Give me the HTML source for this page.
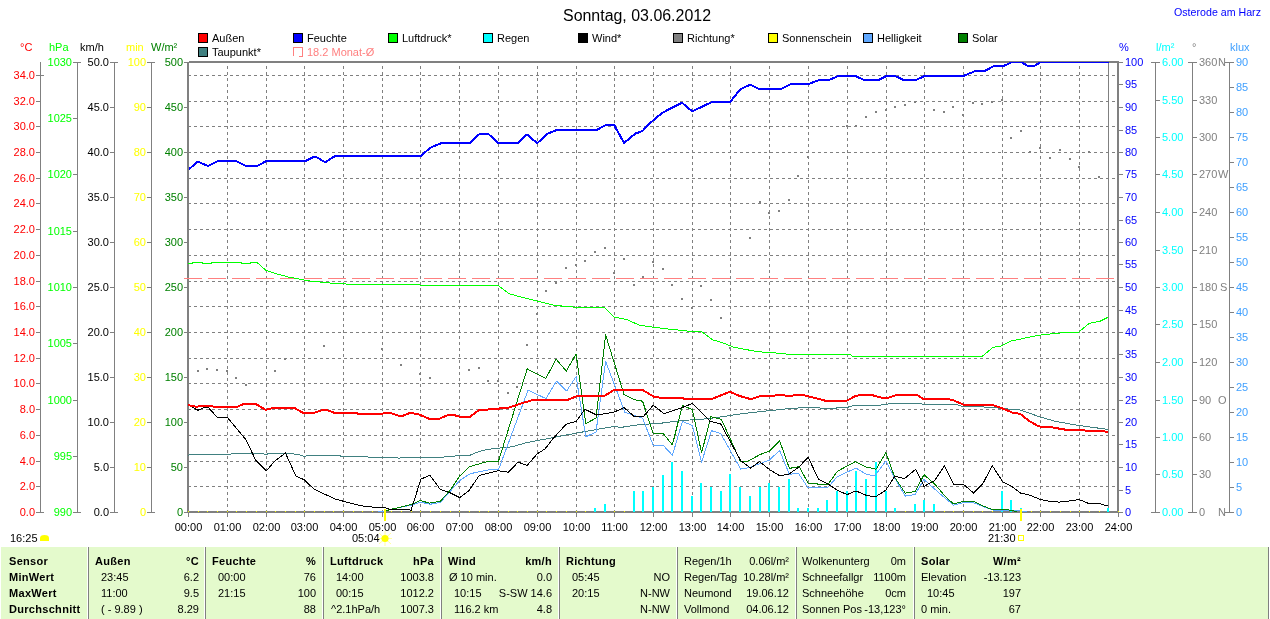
<!DOCTYPE html>
<html><head><meta charset="utf-8"><title>Wetter</title>
<style>html,body{margin:0;padding:0;background:#fff;}svg{display:block;font-family:"Liberation Sans",sans-serif;}</style>
</head><body><div style="will-change:transform;width:1270px;height:619px">
<svg width="1270" height="619" viewBox="0 0 1270 619">
<rect width="1270" height="619" fill="#fff"/>
<rect x="40" y="62" width="1" height="451" fill="#808080"/>
<rect x="36" y="512" width="4" height="1" fill="#808080"/>
<text x="35" y="516.0" fill="#FF0000" text-anchor="end" font-size="11" font-weight="normal" >0.0</text>
<rect x="36" y="486" width="4" height="1" fill="#808080"/>
<text x="35" y="490.0" fill="#FF0000" text-anchor="end" font-size="11" font-weight="normal" >2.0</text>
<rect x="36" y="461" width="4" height="1" fill="#808080"/>
<text x="35" y="465.0" fill="#FF0000" text-anchor="end" font-size="11" font-weight="normal" >4.0</text>
<rect x="36" y="435" width="4" height="1" fill="#808080"/>
<text x="35" y="439.0" fill="#FF0000" text-anchor="end" font-size="11" font-weight="normal" >6.0</text>
<rect x="36" y="409" width="4" height="1" fill="#808080"/>
<text x="35" y="413.0" fill="#FF0000" text-anchor="end" font-size="11" font-weight="normal" >8.0</text>
<rect x="36" y="383" width="4" height="1" fill="#808080"/>
<text x="35" y="387.0" fill="#FF0000" text-anchor="end" font-size="11" font-weight="normal" >10.0</text>
<rect x="36" y="358" width="4" height="1" fill="#808080"/>
<text x="35" y="362.0" fill="#FF0000" text-anchor="end" font-size="11" font-weight="normal" >12.0</text>
<rect x="36" y="332" width="4" height="1" fill="#808080"/>
<text x="35" y="336.0" fill="#FF0000" text-anchor="end" font-size="11" font-weight="normal" >14.0</text>
<rect x="36" y="306" width="4" height="1" fill="#808080"/>
<text x="35" y="310.0" fill="#FF0000" text-anchor="end" font-size="11" font-weight="normal" >16.0</text>
<rect x="36" y="281" width="4" height="1" fill="#808080"/>
<text x="35" y="285.0" fill="#FF0000" text-anchor="end" font-size="11" font-weight="normal" >18.0</text>
<rect x="36" y="255" width="4" height="1" fill="#808080"/>
<text x="35" y="259.0" fill="#FF0000" text-anchor="end" font-size="11" font-weight="normal" >20.0</text>
<rect x="36" y="229" width="4" height="1" fill="#808080"/>
<text x="35" y="233.0" fill="#FF0000" text-anchor="end" font-size="11" font-weight="normal" >22.0</text>
<rect x="36" y="203" width="4" height="1" fill="#808080"/>
<text x="35" y="207.0" fill="#FF0000" text-anchor="end" font-size="11" font-weight="normal" >24.0</text>
<rect x="36" y="178" width="4" height="1" fill="#808080"/>
<text x="35" y="182.0" fill="#FF0000" text-anchor="end" font-size="11" font-weight="normal" >26.0</text>
<rect x="36" y="152" width="4" height="1" fill="#808080"/>
<text x="35" y="156.0" fill="#FF0000" text-anchor="end" font-size="11" font-weight="normal" >28.0</text>
<rect x="36" y="126" width="4" height="1" fill="#808080"/>
<text x="35" y="130.0" fill="#FF0000" text-anchor="end" font-size="11" font-weight="normal" >30.0</text>
<rect x="36" y="101" width="4" height="1" fill="#808080"/>
<text x="35" y="105.0" fill="#FF0000" text-anchor="end" font-size="11" font-weight="normal" >32.0</text>
<rect x="36" y="75" width="4" height="1" fill="#808080"/>
<text x="35" y="79.0" fill="#FF0000" text-anchor="end" font-size="11" font-weight="normal" >34.0</text>
<rect x="41" y="75" width="3" height="1" fill="#808080"/>
<rect x="41" y="512" width="3" height="1" fill="#808080"/>
<text x="20" y="51" fill="#FF0000" text-anchor="start" font-size="11" font-weight="normal" >°C</text>
<rect x="77" y="62" width="1" height="451" fill="#808080"/>
<rect x="73" y="512" width="4" height="1" fill="#808080"/>
<text x="72" y="516.0" fill="#00FF00" text-anchor="end" font-size="11" font-weight="normal" >990</text>
<rect x="73" y="456" width="4" height="1" fill="#808080"/>
<text x="72" y="460.0" fill="#00FF00" text-anchor="end" font-size="11" font-weight="normal" >995</text>
<rect x="73" y="400" width="4" height="1" fill="#808080"/>
<text x="72" y="404.0" fill="#00FF00" text-anchor="end" font-size="11" font-weight="normal" >1000</text>
<rect x="73" y="343" width="4" height="1" fill="#808080"/>
<text x="72" y="347.0" fill="#00FF00" text-anchor="end" font-size="11" font-weight="normal" >1005</text>
<rect x="73" y="287" width="4" height="1" fill="#808080"/>
<text x="72" y="291.0" fill="#00FF00" text-anchor="end" font-size="11" font-weight="normal" >1010</text>
<rect x="73" y="231" width="4" height="1" fill="#808080"/>
<text x="72" y="235.0" fill="#00FF00" text-anchor="end" font-size="11" font-weight="normal" >1015</text>
<rect x="73" y="174" width="4" height="1" fill="#808080"/>
<text x="72" y="178.0" fill="#00FF00" text-anchor="end" font-size="11" font-weight="normal" >1020</text>
<rect x="73" y="118" width="4" height="1" fill="#808080"/>
<text x="72" y="122.0" fill="#00FF00" text-anchor="end" font-size="11" font-weight="normal" >1025</text>
<rect x="73" y="62" width="4" height="1" fill="#808080"/>
<text x="72" y="66.0" fill="#00FF00" text-anchor="end" font-size="11" font-weight="normal" >1030</text>
<rect x="78" y="62" width="3" height="1" fill="#808080"/>
<rect x="78" y="512" width="3" height="1" fill="#808080"/>
<text x="49" y="51" fill="#00FF00" text-anchor="start" font-size="11" font-weight="normal" >hPa</text>
<rect x="114" y="62" width="1" height="451" fill="#808080"/>
<rect x="110" y="512" width="4" height="1" fill="#808080"/>
<text x="109" y="516.0" fill="#000000" text-anchor="end" font-size="11" font-weight="normal" >0.0</text>
<rect x="110" y="467" width="4" height="1" fill="#808080"/>
<text x="109" y="471.0" fill="#000000" text-anchor="end" font-size="11" font-weight="normal" >5.0</text>
<rect x="110" y="422" width="4" height="1" fill="#808080"/>
<text x="109" y="426.0" fill="#000000" text-anchor="end" font-size="11" font-weight="normal" >10.0</text>
<rect x="110" y="377" width="4" height="1" fill="#808080"/>
<text x="109" y="381.0" fill="#000000" text-anchor="end" font-size="11" font-weight="normal" >15.0</text>
<rect x="110" y="332" width="4" height="1" fill="#808080"/>
<text x="109" y="336.0" fill="#000000" text-anchor="end" font-size="11" font-weight="normal" >20.0</text>
<rect x="110" y="287" width="4" height="1" fill="#808080"/>
<text x="109" y="291.0" fill="#000000" text-anchor="end" font-size="11" font-weight="normal" >25.0</text>
<rect x="110" y="242" width="4" height="1" fill="#808080"/>
<text x="109" y="246.0" fill="#000000" text-anchor="end" font-size="11" font-weight="normal" >30.0</text>
<rect x="110" y="197" width="4" height="1" fill="#808080"/>
<text x="109" y="201.0" fill="#000000" text-anchor="end" font-size="11" font-weight="normal" >35.0</text>
<rect x="110" y="152" width="4" height="1" fill="#808080"/>
<text x="109" y="156.0" fill="#000000" text-anchor="end" font-size="11" font-weight="normal" >40.0</text>
<rect x="110" y="107" width="4" height="1" fill="#808080"/>
<text x="109" y="111.0" fill="#000000" text-anchor="end" font-size="11" font-weight="normal" >45.0</text>
<rect x="110" y="62" width="4" height="1" fill="#808080"/>
<text x="109" y="66.0" fill="#000000" text-anchor="end" font-size="11" font-weight="normal" >50.0</text>
<rect x="115" y="62" width="3" height="1" fill="#808080"/>
<rect x="115" y="512" width="3" height="1" fill="#808080"/>
<text x="80" y="51" fill="#000000" text-anchor="start" font-size="11" font-weight="normal" >km/h</text>
<rect x="151" y="62" width="1" height="451" fill="#808080"/>
<rect x="147" y="512" width="4" height="1" fill="#808080"/>
<text x="146" y="516.0" fill="#FFFF00" text-anchor="end" font-size="11" font-weight="normal" >0</text>
<rect x="147" y="467" width="4" height="1" fill="#808080"/>
<text x="146" y="471.0" fill="#FFFF00" text-anchor="end" font-size="11" font-weight="normal" >10</text>
<rect x="147" y="422" width="4" height="1" fill="#808080"/>
<text x="146" y="426.0" fill="#FFFF00" text-anchor="end" font-size="11" font-weight="normal" >20</text>
<rect x="147" y="377" width="4" height="1" fill="#808080"/>
<text x="146" y="381.0" fill="#FFFF00" text-anchor="end" font-size="11" font-weight="normal" >30</text>
<rect x="147" y="332" width="4" height="1" fill="#808080"/>
<text x="146" y="336.0" fill="#FFFF00" text-anchor="end" font-size="11" font-weight="normal" >40</text>
<rect x="147" y="287" width="4" height="1" fill="#808080"/>
<text x="146" y="291.0" fill="#FFFF00" text-anchor="end" font-size="11" font-weight="normal" >50</text>
<rect x="147" y="242" width="4" height="1" fill="#808080"/>
<text x="146" y="246.0" fill="#FFFF00" text-anchor="end" font-size="11" font-weight="normal" >60</text>
<rect x="147" y="197" width="4" height="1" fill="#808080"/>
<text x="146" y="201.0" fill="#FFFF00" text-anchor="end" font-size="11" font-weight="normal" >70</text>
<rect x="147" y="152" width="4" height="1" fill="#808080"/>
<text x="146" y="156.0" fill="#FFFF00" text-anchor="end" font-size="11" font-weight="normal" >80</text>
<rect x="147" y="107" width="4" height="1" fill="#808080"/>
<text x="146" y="111.0" fill="#FFFF00" text-anchor="end" font-size="11" font-weight="normal" >90</text>
<rect x="147" y="62" width="4" height="1" fill="#808080"/>
<text x="146" y="66.0" fill="#FFFF00" text-anchor="end" font-size="11" font-weight="normal" >100</text>
<rect x="152" y="62" width="3" height="1" fill="#808080"/>
<rect x="152" y="512" width="3" height="1" fill="#808080"/>
<text x="126" y="51" fill="#FFFF00" text-anchor="start" font-size="11" font-weight="normal" >min</text>
<rect x="184" y="512" width="3" height="1" fill="#808080"/>
<text x="183" y="516.0" fill="#008000" text-anchor="end" font-size="11" font-weight="normal" >0</text>
<rect x="184" y="467" width="3" height="1" fill="#808080"/>
<text x="183" y="471.0" fill="#008000" text-anchor="end" font-size="11" font-weight="normal" >50</text>
<rect x="184" y="422" width="3" height="1" fill="#808080"/>
<text x="183" y="426.0" fill="#008000" text-anchor="end" font-size="11" font-weight="normal" >100</text>
<rect x="184" y="377" width="3" height="1" fill="#808080"/>
<text x="183" y="381.0" fill="#008000" text-anchor="end" font-size="11" font-weight="normal" >150</text>
<rect x="184" y="332" width="3" height="1" fill="#808080"/>
<text x="183" y="336.0" fill="#008000" text-anchor="end" font-size="11" font-weight="normal" >200</text>
<rect x="184" y="287" width="3" height="1" fill="#808080"/>
<text x="183" y="291.0" fill="#008000" text-anchor="end" font-size="11" font-weight="normal" >250</text>
<rect x="184" y="242" width="3" height="1" fill="#808080"/>
<text x="183" y="246.0" fill="#008000" text-anchor="end" font-size="11" font-weight="normal" >300</text>
<rect x="184" y="197" width="3" height="1" fill="#808080"/>
<text x="183" y="201.0" fill="#008000" text-anchor="end" font-size="11" font-weight="normal" >350</text>
<rect x="184" y="152" width="3" height="1" fill="#808080"/>
<text x="183" y="156.0" fill="#008000" text-anchor="end" font-size="11" font-weight="normal" >400</text>
<rect x="184" y="107" width="3" height="1" fill="#808080"/>
<text x="183" y="111.0" fill="#008000" text-anchor="end" font-size="11" font-weight="normal" >450</text>
<rect x="184" y="62" width="3" height="1" fill="#808080"/>
<text x="183" y="66.0" fill="#008000" text-anchor="end" font-size="11" font-weight="normal" >500</text>
<text x="151" y="51" fill="#008000" text-anchor="start" font-size="11" font-weight="normal" >W/m²</text>
<rect x="1119" y="512" width="4" height="1" fill="#808080"/>
<text x="1125" y="516.0" fill="#0000FF" text-anchor="start" font-size="11" font-weight="normal" >0</text>
<rect x="1119" y="490" width="4" height="1" fill="#808080"/>
<text x="1125" y="494.0" fill="#0000FF" text-anchor="start" font-size="11" font-weight="normal" >5</text>
<rect x="1119" y="467" width="4" height="1" fill="#808080"/>
<text x="1125" y="471.0" fill="#0000FF" text-anchor="start" font-size="11" font-weight="normal" >10</text>
<rect x="1119" y="444" width="4" height="1" fill="#808080"/>
<text x="1125" y="448.0" fill="#0000FF" text-anchor="start" font-size="11" font-weight="normal" >15</text>
<rect x="1119" y="422" width="4" height="1" fill="#808080"/>
<text x="1125" y="426.0" fill="#0000FF" text-anchor="start" font-size="11" font-weight="normal" >20</text>
<rect x="1119" y="400" width="4" height="1" fill="#808080"/>
<text x="1125" y="404.0" fill="#0000FF" text-anchor="start" font-size="11" font-weight="normal" >25</text>
<rect x="1119" y="377" width="4" height="1" fill="#808080"/>
<text x="1125" y="381.0" fill="#0000FF" text-anchor="start" font-size="11" font-weight="normal" >30</text>
<rect x="1119" y="354" width="4" height="1" fill="#808080"/>
<text x="1125" y="358.0" fill="#0000FF" text-anchor="start" font-size="11" font-weight="normal" >35</text>
<rect x="1119" y="332" width="4" height="1" fill="#808080"/>
<text x="1125" y="336.0" fill="#0000FF" text-anchor="start" font-size="11" font-weight="normal" >40</text>
<rect x="1119" y="310" width="4" height="1" fill="#808080"/>
<text x="1125" y="314.0" fill="#0000FF" text-anchor="start" font-size="11" font-weight="normal" >45</text>
<rect x="1119" y="287" width="4" height="1" fill="#808080"/>
<text x="1125" y="291.0" fill="#0000FF" text-anchor="start" font-size="11" font-weight="normal" >50</text>
<rect x="1119" y="264" width="4" height="1" fill="#808080"/>
<text x="1125" y="268.0" fill="#0000FF" text-anchor="start" font-size="11" font-weight="normal" >55</text>
<rect x="1119" y="242" width="4" height="1" fill="#808080"/>
<text x="1125" y="246.0" fill="#0000FF" text-anchor="start" font-size="11" font-weight="normal" >60</text>
<rect x="1119" y="220" width="4" height="1" fill="#808080"/>
<text x="1125" y="224.0" fill="#0000FF" text-anchor="start" font-size="11" font-weight="normal" >65</text>
<rect x="1119" y="197" width="4" height="1" fill="#808080"/>
<text x="1125" y="201.0" fill="#0000FF" text-anchor="start" font-size="11" font-weight="normal" >70</text>
<rect x="1119" y="174" width="4" height="1" fill="#808080"/>
<text x="1125" y="178.0" fill="#0000FF" text-anchor="start" font-size="11" font-weight="normal" >75</text>
<rect x="1119" y="152" width="4" height="1" fill="#808080"/>
<text x="1125" y="156.0" fill="#0000FF" text-anchor="start" font-size="11" font-weight="normal" >80</text>
<rect x="1119" y="130" width="4" height="1" fill="#808080"/>
<text x="1125" y="134.0" fill="#0000FF" text-anchor="start" font-size="11" font-weight="normal" >85</text>
<rect x="1119" y="107" width="4" height="1" fill="#808080"/>
<text x="1125" y="111.0" fill="#0000FF" text-anchor="start" font-size="11" font-weight="normal" >90</text>
<rect x="1119" y="84" width="4" height="1" fill="#808080"/>
<text x="1125" y="88.0" fill="#0000FF" text-anchor="start" font-size="11" font-weight="normal" >95</text>
<rect x="1119" y="62" width="4" height="1" fill="#808080"/>
<text x="1125" y="66.0" fill="#0000FF" text-anchor="start" font-size="11" font-weight="normal" >100</text>
<text x="1119" y="51" fill="#0000FF" text-anchor="start" font-size="11" font-weight="normal" >%</text>
<rect x="1155" y="62" width="1" height="451" fill="#808080"/>
<rect x="1156" y="512" width="4" height="1" fill="#808080"/>
<text x="1162" y="516.0" fill="#00FFFF" text-anchor="start" font-size="11" font-weight="normal" >0.00</text>
<rect x="1156" y="474" width="4" height="1" fill="#808080"/>
<text x="1162" y="478.0" fill="#00FFFF" text-anchor="start" font-size="11" font-weight="normal" >0.50</text>
<rect x="1156" y="437" width="4" height="1" fill="#808080"/>
<text x="1162" y="441.0" fill="#00FFFF" text-anchor="start" font-size="11" font-weight="normal" >1.00</text>
<rect x="1156" y="400" width="4" height="1" fill="#808080"/>
<text x="1162" y="404.0" fill="#00FFFF" text-anchor="start" font-size="11" font-weight="normal" >1.50</text>
<rect x="1156" y="362" width="4" height="1" fill="#808080"/>
<text x="1162" y="366.0" fill="#00FFFF" text-anchor="start" font-size="11" font-weight="normal" >2.00</text>
<rect x="1156" y="324" width="4" height="1" fill="#808080"/>
<text x="1162" y="328.0" fill="#00FFFF" text-anchor="start" font-size="11" font-weight="normal" >2.50</text>
<rect x="1156" y="287" width="4" height="1" fill="#808080"/>
<text x="1162" y="291.0" fill="#00FFFF" text-anchor="start" font-size="11" font-weight="normal" >3.00</text>
<rect x="1156" y="250" width="4" height="1" fill="#808080"/>
<text x="1162" y="254.0" fill="#00FFFF" text-anchor="start" font-size="11" font-weight="normal" >3.50</text>
<rect x="1156" y="212" width="4" height="1" fill="#808080"/>
<text x="1162" y="216.0" fill="#00FFFF" text-anchor="start" font-size="11" font-weight="normal" >4.00</text>
<rect x="1156" y="174" width="4" height="1" fill="#808080"/>
<text x="1162" y="178.0" fill="#00FFFF" text-anchor="start" font-size="11" font-weight="normal" >4.50</text>
<rect x="1156" y="137" width="4" height="1" fill="#808080"/>
<text x="1162" y="141.0" fill="#00FFFF" text-anchor="start" font-size="11" font-weight="normal" >5.00</text>
<rect x="1156" y="100" width="4" height="1" fill="#808080"/>
<text x="1162" y="104.0" fill="#00FFFF" text-anchor="start" font-size="11" font-weight="normal" >5.50</text>
<rect x="1156" y="62" width="4" height="1" fill="#808080"/>
<text x="1162" y="66.0" fill="#00FFFF" text-anchor="start" font-size="11" font-weight="normal" >6.00</text>
<rect x="1151" y="62" width="4" height="1" fill="#808080"/>
<rect x="1151" y="512" width="4" height="1" fill="#808080"/>
<text x="1156" y="51" fill="#00FFFF" text-anchor="start" font-size="11" font-weight="normal" >l/m²</text>
<rect x="1192" y="62" width="1" height="451" fill="#808080"/>
<rect x="1193" y="512" width="4" height="1" fill="#808080"/>
<text x="1199" y="516.0" fill="#808080" text-anchor="start" font-size="11" font-weight="normal" >0</text>
<text x="1218" y="516.0" fill="#808080" text-anchor="start" font-size="11" font-weight="normal" >N</text>
<rect x="1193" y="474" width="4" height="1" fill="#808080"/>
<text x="1199" y="478.0" fill="#808080" text-anchor="start" font-size="11" font-weight="normal" >30</text>
<rect x="1193" y="437" width="4" height="1" fill="#808080"/>
<text x="1199" y="441.0" fill="#808080" text-anchor="start" font-size="11" font-weight="normal" >60</text>
<rect x="1193" y="400" width="4" height="1" fill="#808080"/>
<text x="1199" y="404.0" fill="#808080" text-anchor="start" font-size="11" font-weight="normal" >90</text>
<text x="1218" y="404.0" fill="#808080" text-anchor="start" font-size="11" font-weight="normal" >O</text>
<rect x="1193" y="362" width="4" height="1" fill="#808080"/>
<text x="1199" y="366.0" fill="#808080" text-anchor="start" font-size="11" font-weight="normal" >120</text>
<rect x="1193" y="324" width="4" height="1" fill="#808080"/>
<text x="1199" y="328.0" fill="#808080" text-anchor="start" font-size="11" font-weight="normal" >150</text>
<rect x="1193" y="287" width="4" height="1" fill="#808080"/>
<text x="1199" y="291.0" fill="#808080" text-anchor="start" font-size="11" font-weight="normal" >180</text>
<text x="1220" y="291.0" fill="#808080" text-anchor="start" font-size="11" font-weight="normal" >S</text>
<rect x="1193" y="250" width="4" height="1" fill="#808080"/>
<text x="1199" y="254.0" fill="#808080" text-anchor="start" font-size="11" font-weight="normal" >210</text>
<rect x="1193" y="212" width="4" height="1" fill="#808080"/>
<text x="1199" y="216.0" fill="#808080" text-anchor="start" font-size="11" font-weight="normal" >240</text>
<rect x="1193" y="174" width="4" height="1" fill="#808080"/>
<text x="1199" y="178.0" fill="#808080" text-anchor="start" font-size="11" font-weight="normal" >270</text>
<text x="1218" y="178.0" fill="#808080" text-anchor="start" font-size="11" font-weight="normal" >W</text>
<rect x="1193" y="137" width="4" height="1" fill="#808080"/>
<text x="1199" y="141.0" fill="#808080" text-anchor="start" font-size="11" font-weight="normal" >300</text>
<rect x="1193" y="100" width="4" height="1" fill="#808080"/>
<text x="1199" y="104.0" fill="#808080" text-anchor="start" font-size="11" font-weight="normal" >330</text>
<rect x="1193" y="62" width="4" height="1" fill="#808080"/>
<text x="1199" y="66.0" fill="#808080" text-anchor="start" font-size="11" font-weight="normal" >360</text>
<text x="1218" y="66.0" fill="#808080" text-anchor="start" font-size="11" font-weight="normal" >N</text>
<rect x="1188" y="62" width="4" height="1" fill="#808080"/>
<rect x="1188" y="512" width="4" height="1" fill="#808080"/>
<text x="1192" y="51" fill="#808080" text-anchor="start" font-size="11" font-weight="normal" >°</text>
<rect x="1229" y="62" width="1" height="451" fill="#808080"/>
<rect x="1230" y="512" width="4" height="1" fill="#808080"/>
<text x="1236" y="516.0" fill="#40A0FF" text-anchor="start" font-size="11" font-weight="normal" >0</text>
<rect x="1230" y="487" width="4" height="1" fill="#808080"/>
<text x="1236" y="491.0" fill="#40A0FF" text-anchor="start" font-size="11" font-weight="normal" >5</text>
<rect x="1230" y="462" width="4" height="1" fill="#808080"/>
<text x="1236" y="466.0" fill="#40A0FF" text-anchor="start" font-size="11" font-weight="normal" >10</text>
<rect x="1230" y="437" width="4" height="1" fill="#808080"/>
<text x="1236" y="441.0" fill="#40A0FF" text-anchor="start" font-size="11" font-weight="normal" >15</text>
<rect x="1230" y="412" width="4" height="1" fill="#808080"/>
<text x="1236" y="416.0" fill="#40A0FF" text-anchor="start" font-size="11" font-weight="normal" >20</text>
<rect x="1230" y="387" width="4" height="1" fill="#808080"/>
<text x="1236" y="391.0" fill="#40A0FF" text-anchor="start" font-size="11" font-weight="normal" >25</text>
<rect x="1230" y="362" width="4" height="1" fill="#808080"/>
<text x="1236" y="366.0" fill="#40A0FF" text-anchor="start" font-size="11" font-weight="normal" >30</text>
<rect x="1230" y="337" width="4" height="1" fill="#808080"/>
<text x="1236" y="341.0" fill="#40A0FF" text-anchor="start" font-size="11" font-weight="normal" >35</text>
<rect x="1230" y="312" width="4" height="1" fill="#808080"/>
<text x="1236" y="316.0" fill="#40A0FF" text-anchor="start" font-size="11" font-weight="normal" >40</text>
<rect x="1230" y="287" width="4" height="1" fill="#808080"/>
<text x="1236" y="291.0" fill="#40A0FF" text-anchor="start" font-size="11" font-weight="normal" >45</text>
<rect x="1230" y="262" width="4" height="1" fill="#808080"/>
<text x="1236" y="266.0" fill="#40A0FF" text-anchor="start" font-size="11" font-weight="normal" >50</text>
<rect x="1230" y="237" width="4" height="1" fill="#808080"/>
<text x="1236" y="241.0" fill="#40A0FF" text-anchor="start" font-size="11" font-weight="normal" >55</text>
<rect x="1230" y="212" width="4" height="1" fill="#808080"/>
<text x="1236" y="216.0" fill="#40A0FF" text-anchor="start" font-size="11" font-weight="normal" >60</text>
<rect x="1230" y="187" width="4" height="1" fill="#808080"/>
<text x="1236" y="191.0" fill="#40A0FF" text-anchor="start" font-size="11" font-weight="normal" >65</text>
<rect x="1230" y="162" width="4" height="1" fill="#808080"/>
<text x="1236" y="166.0" fill="#40A0FF" text-anchor="start" font-size="11" font-weight="normal" >70</text>
<rect x="1230" y="137" width="4" height="1" fill="#808080"/>
<text x="1236" y="141.0" fill="#40A0FF" text-anchor="start" font-size="11" font-weight="normal" >75</text>
<rect x="1230" y="112" width="4" height="1" fill="#808080"/>
<text x="1236" y="116.0" fill="#40A0FF" text-anchor="start" font-size="11" font-weight="normal" >80</text>
<rect x="1230" y="87" width="4" height="1" fill="#808080"/>
<text x="1236" y="91.0" fill="#40A0FF" text-anchor="start" font-size="11" font-weight="normal" >85</text>
<rect x="1230" y="62" width="4" height="1" fill="#808080"/>
<text x="1236" y="66.0" fill="#40A0FF" text-anchor="start" font-size="11" font-weight="normal" >90</text>
<rect x="1225" y="62" width="4" height="1" fill="#808080"/>
<rect x="1225" y="512" width="4" height="1" fill="#808080"/>
<text x="1230" y="51" fill="#40A0FF" text-anchor="start" font-size="11" font-weight="normal" >klux</text>
<path d="M188 486.5H1117 M188 461.5H1117 M188 435.5H1117 M188 409.5H1117 M188 383.5H1117 M188 358.5H1117 M188 332.5H1117 M188 306.5H1117 M188 281.5H1117 M188 255.5H1117 M188 229.5H1117 M188 203.5H1117 M188 178.5H1117 M188 152.5H1117 M188 126.5H1117 M188 101.5H1117 M188 75.5H1117" stroke="#808080" stroke-width="1" stroke-dasharray="3 3" fill="none" shape-rendering="crispEdges"/>
<path d="M227.5 61V511 M266.5 61V511 M304.5 61V511 M343.5 61V511 M382.5 61V511 M420.5 61V511 M459.5 61V511 M498.5 61V511 M537.5 61V511 M576.5 61V511 M614.5 61V511 M653.5 61V511 M692.5 61V511 M730.5 61V511 M769.5 61V511 M808.5 61V511 M847.5 61V511 M886.5 61V511 M924.5 61V511 M963.5 61V511 M1002.5 61V511 M1040.5 61V511 M1079.5 61V511" stroke="#808080" stroke-width="1" stroke-dasharray="3 3" stroke-dashoffset="1" fill="none" shape-rendering="crispEdges"/>
<rect x="187" y="62" width="2" height="451" fill="#808080"/>
<rect x="189" y="61" width="930" height="2" fill="#808080"/>
<rect x="1117" y="61" width="2" height="452" fill="#808080"/>
<rect x="187" y="511" width="932" height="2" fill="#808080"/>
<rect x="184" y="62" width="3" height="1" fill="#808080"/>
<rect x="188" y="513" width="1" height="4" fill="#808080"/>
<rect x="1118" y="513" width="1" height="4" fill="#808080"/>
<rect x="227" y="513" width="1" height="4" fill="#808080"/>
<rect x="266" y="513" width="1" height="4" fill="#808080"/>
<rect x="304" y="513" width="1" height="4" fill="#808080"/>
<rect x="343" y="513" width="1" height="4" fill="#808080"/>
<rect x="382" y="513" width="1" height="4" fill="#808080"/>
<rect x="420" y="513" width="1" height="4" fill="#808080"/>
<rect x="459" y="513" width="1" height="4" fill="#808080"/>
<rect x="498" y="513" width="1" height="4" fill="#808080"/>
<rect x="537" y="513" width="1" height="4" fill="#808080"/>
<rect x="576" y="513" width="1" height="4" fill="#808080"/>
<rect x="614" y="513" width="1" height="4" fill="#808080"/>
<rect x="653" y="513" width="1" height="4" fill="#808080"/>
<rect x="692" y="513" width="1" height="4" fill="#808080"/>
<rect x="730" y="513" width="1" height="4" fill="#808080"/>
<rect x="769" y="513" width="1" height="4" fill="#808080"/>
<rect x="808" y="513" width="1" height="4" fill="#808080"/>
<rect x="847" y="513" width="1" height="4" fill="#808080"/>
<rect x="886" y="513" width="1" height="4" fill="#808080"/>
<rect x="924" y="513" width="1" height="4" fill="#808080"/>
<rect x="963" y="513" width="1" height="4" fill="#808080"/>
<rect x="1002" y="513" width="1" height="4" fill="#808080"/>
<rect x="1040" y="513" width="1" height="4" fill="#808080"/>
<rect x="1079" y="513" width="1" height="4" fill="#808080"/>
<rect x="1108" y="63" width="1" height="448" fill="#808080"/>
<text x="188.5" y="531" fill="#000" text-anchor="middle" font-size="11" font-weight="normal" >00:00</text>
<text x="227.5" y="531" fill="#000" text-anchor="middle" font-size="11" font-weight="normal" >01:00</text>
<text x="266.5" y="531" fill="#000" text-anchor="middle" font-size="11" font-weight="normal" >02:00</text>
<text x="304.5" y="531" fill="#000" text-anchor="middle" font-size="11" font-weight="normal" >03:00</text>
<text x="343.5" y="531" fill="#000" text-anchor="middle" font-size="11" font-weight="normal" >04:00</text>
<text x="382.5" y="531" fill="#000" text-anchor="middle" font-size="11" font-weight="normal" >05:00</text>
<text x="420.5" y="531" fill="#000" text-anchor="middle" font-size="11" font-weight="normal" >06:00</text>
<text x="459.5" y="531" fill="#000" text-anchor="middle" font-size="11" font-weight="normal" >07:00</text>
<text x="498.5" y="531" fill="#000" text-anchor="middle" font-size="11" font-weight="normal" >08:00</text>
<text x="537.5" y="531" fill="#000" text-anchor="middle" font-size="11" font-weight="normal" >09:00</text>
<text x="576.5" y="531" fill="#000" text-anchor="middle" font-size="11" font-weight="normal" >10:00</text>
<text x="614.5" y="531" fill="#000" text-anchor="middle" font-size="11" font-weight="normal" >11:00</text>
<text x="653.5" y="531" fill="#000" text-anchor="middle" font-size="11" font-weight="normal" >12:00</text>
<text x="692.5" y="531" fill="#000" text-anchor="middle" font-size="11" font-weight="normal" >13:00</text>
<text x="730.5" y="531" fill="#000" text-anchor="middle" font-size="11" font-weight="normal" >14:00</text>
<text x="769.5" y="531" fill="#000" text-anchor="middle" font-size="11" font-weight="normal" >15:00</text>
<text x="808.5" y="531" fill="#000" text-anchor="middle" font-size="11" font-weight="normal" >16:00</text>
<text x="847.5" y="531" fill="#000" text-anchor="middle" font-size="11" font-weight="normal" >17:00</text>
<text x="886.5" y="531" fill="#000" text-anchor="middle" font-size="11" font-weight="normal" >18:00</text>
<text x="924.5" y="531" fill="#000" text-anchor="middle" font-size="11" font-weight="normal" >19:00</text>
<text x="963.5" y="531" fill="#000" text-anchor="middle" font-size="11" font-weight="normal" >20:00</text>
<text x="1002.5" y="531" fill="#000" text-anchor="middle" font-size="11" font-weight="normal" >21:00</text>
<text x="1040.5" y="531" fill="#000" text-anchor="middle" font-size="11" font-weight="normal" >22:00</text>
<text x="1079.5" y="531" fill="#000" text-anchor="middle" font-size="11" font-weight="normal" >23:00</text>
<text x="1118.5" y="531" fill="#000" text-anchor="middle" font-size="11" font-weight="normal" >24:00</text>
<text x="563" y="21" fill="#000" text-anchor="start" font-size="15.8" font-weight="normal" textLength="148" lengthAdjust="spacingAndGlyphs">Sonntag, 03.06.2012</text>
<text x="1174" y="16" fill="#0000FF" text-anchor="start" font-size="11" font-weight="normal" textLength="87" lengthAdjust="spacingAndGlyphs">Osterode am Harz</text>
<rect x="198.5" y="33.5" width="9" height="9" fill="#FF0000" stroke="#000" stroke-width="1"/>
<text x="212" y="42" fill="#000" text-anchor="start" font-size="11" font-weight="normal" >Außen</text>
<rect x="293.5" y="33.5" width="9" height="9" fill="#0000FF" stroke="#000" stroke-width="1"/>
<text x="307" y="42" fill="#000" text-anchor="start" font-size="11" font-weight="normal" >Feuchte</text>
<rect x="388.5" y="33.5" width="9" height="9" fill="#00FF00" stroke="#000" stroke-width="1"/>
<text x="402" y="42" fill="#000" text-anchor="start" font-size="11" font-weight="normal" >Luftdruck*</text>
<rect x="483.5" y="33.5" width="9" height="9" fill="#00FFFF" stroke="#000" stroke-width="1"/>
<text x="497" y="42" fill="#000" text-anchor="start" font-size="11" font-weight="normal" >Regen</text>
<rect x="578.5" y="33.5" width="9" height="9" fill="#000000" stroke="#000" stroke-width="1"/>
<text x="592" y="42" fill="#000" text-anchor="start" font-size="11" font-weight="normal" >Wind*</text>
<rect x="673.5" y="33.5" width="9" height="9" fill="#808080" stroke="#000" stroke-width="1"/>
<text x="687" y="42" fill="#000" text-anchor="start" font-size="11" font-weight="normal" >Richtung*</text>
<rect x="768.5" y="33.5" width="9" height="9" fill="#FFFF00" stroke="#000" stroke-width="1"/>
<text x="782" y="42" fill="#000" text-anchor="start" font-size="11" font-weight="normal" >Sonnenschein</text>
<rect x="863.5" y="33.5" width="9" height="9" fill="#60A8FF" stroke="#000" stroke-width="1"/>
<text x="877" y="42" fill="#000" text-anchor="start" font-size="11" font-weight="normal" >Helligkeit</text>
<rect x="958.5" y="33.5" width="9" height="9" fill="#008000" stroke="#000" stroke-width="1"/>
<text x="972" y="42" fill="#000" text-anchor="start" font-size="11" font-weight="normal" >Solar</text>
<rect x="198.5" y="47.5" width="9" height="9" fill="#408080" stroke="#000" stroke-width="1"/>
<text x="212" y="56" fill="#000" text-anchor="start" font-size="11" font-weight="normal" >Taupunkt*</text>
<path d="M293.5 56V47.5H302.5V56.5H299" stroke="#FF8080" fill="none" stroke-width="1" shape-rendering="crispEdges"/>
<text x="307" y="56" fill="#FF8080" text-anchor="start" font-size="11" font-weight="normal" >18.2 Monat-Ø</text>
<path d="M184 278.5H1118" stroke="#FF8080" stroke-width="1" stroke-dasharray="18 6" fill="none" shape-rendering="crispEdges"/>
<rect x="188" y="511" width="1" height="1" fill="#FFFF00"/>
<rect x="198" y="511" width="1" height="1" fill="#FFFF00"/>
<rect x="207" y="511" width="1" height="1" fill="#FFFF00"/>
<rect x="217" y="511" width="1" height="1" fill="#FFFF00"/>
<rect x="227" y="511" width="1" height="1" fill="#FFFF00"/>
<rect x="236" y="511" width="1" height="1" fill="#FFFF00"/>
<rect x="246" y="511" width="1" height="1" fill="#FFFF00"/>
<rect x="256" y="511" width="1" height="1" fill="#FFFF00"/>
<rect x="266" y="511" width="1" height="1" fill="#FFFF00"/>
<rect x="275" y="511" width="1" height="1" fill="#FFFF00"/>
<rect x="285" y="511" width="1" height="1" fill="#FFFF00"/>
<rect x="295" y="511" width="1" height="1" fill="#FFFF00"/>
<rect x="304" y="511" width="1" height="1" fill="#FFFF00"/>
<rect x="314" y="511" width="1" height="1" fill="#FFFF00"/>
<rect x="324" y="511" width="1" height="1" fill="#FFFF00"/>
<rect x="333" y="511" width="1" height="1" fill="#FFFF00"/>
<rect x="343" y="511" width="1" height="1" fill="#FFFF00"/>
<rect x="353" y="511" width="1" height="1" fill="#FFFF00"/>
<rect x="362" y="511" width="1" height="1" fill="#FFFF00"/>
<rect x="372" y="511" width="1" height="1" fill="#FFFF00"/>
<rect x="382" y="511" width="1" height="1" fill="#FFFF00"/>
<rect x="391" y="511" width="1" height="1" fill="#FFFF00"/>
<rect x="401" y="511" width="1" height="1" fill="#FFFF00"/>
<rect x="411" y="511" width="1" height="1" fill="#FFFF00"/>
<rect x="420" y="511" width="1" height="1" fill="#FFFF00"/>
<rect x="430" y="511" width="1" height="1" fill="#FFFF00"/>
<rect x="440" y="511" width="1" height="1" fill="#FFFF00"/>
<rect x="450" y="511" width="1" height="1" fill="#FFFF00"/>
<rect x="459" y="511" width="1" height="1" fill="#FFFF00"/>
<rect x="469" y="511" width="1" height="1" fill="#FFFF00"/>
<rect x="479" y="511" width="1" height="1" fill="#FFFF00"/>
<rect x="488" y="511" width="1" height="1" fill="#FFFF00"/>
<rect x="498" y="511" width="1" height="1" fill="#FFFF00"/>
<rect x="508" y="511" width="1" height="1" fill="#FFFF00"/>
<rect x="517" y="511" width="1" height="1" fill="#FFFF00"/>
<rect x="527" y="511" width="1" height="1" fill="#FFFF00"/>
<rect x="537" y="511" width="1" height="1" fill="#FFFF00"/>
<rect x="546" y="511" width="1" height="1" fill="#FFFF00"/>
<rect x="556" y="511" width="1" height="1" fill="#FFFF00"/>
<rect x="566" y="511" width="1" height="1" fill="#FFFF00"/>
<rect x="576" y="511" width="1" height="1" fill="#FFFF00"/>
<rect x="585" y="511" width="1" height="1" fill="#FFFF00"/>
<rect x="595" y="511" width="1" height="1" fill="#FFFF00"/>
<rect x="605" y="511" width="1" height="1" fill="#FFFF00"/>
<rect x="614" y="511" width="1" height="1" fill="#FFFF00"/>
<rect x="624" y="511" width="1" height="1" fill="#FFFF00"/>
<rect x="634" y="511" width="1" height="1" fill="#FFFF00"/>
<rect x="643" y="511" width="1" height="1" fill="#FFFF00"/>
<rect x="653" y="511" width="1" height="1" fill="#FFFF00"/>
<rect x="663" y="511" width="1" height="1" fill="#FFFF00"/>
<rect x="672" y="511" width="1" height="1" fill="#FFFF00"/>
<rect x="682" y="511" width="1" height="1" fill="#FFFF00"/>
<rect x="692" y="511" width="1" height="1" fill="#FFFF00"/>
<rect x="701" y="511" width="1" height="1" fill="#FFFF00"/>
<rect x="711" y="511" width="1" height="1" fill="#FFFF00"/>
<rect x="721" y="511" width="1" height="1" fill="#FFFF00"/>
<rect x="730" y="511" width="1" height="1" fill="#FFFF00"/>
<rect x="740" y="511" width="1" height="1" fill="#FFFF00"/>
<rect x="750" y="511" width="1" height="1" fill="#FFFF00"/>
<rect x="760" y="511" width="1" height="1" fill="#FFFF00"/>
<rect x="769" y="511" width="1" height="1" fill="#FFFF00"/>
<rect x="779" y="511" width="1" height="1" fill="#FFFF00"/>
<rect x="789" y="511" width="1" height="1" fill="#FFFF00"/>
<rect x="798" y="511" width="1" height="1" fill="#FFFF00"/>
<rect x="808" y="511" width="1" height="1" fill="#FFFF00"/>
<rect x="818" y="511" width="1" height="1" fill="#FFFF00"/>
<rect x="827" y="511" width="1" height="1" fill="#FFFF00"/>
<rect x="837" y="511" width="1" height="1" fill="#FFFF00"/>
<rect x="847" y="511" width="1" height="1" fill="#FFFF00"/>
<rect x="856" y="511" width="1" height="1" fill="#FFFF00"/>
<rect x="866" y="511" width="1" height="1" fill="#FFFF00"/>
<rect x="876" y="511" width="1" height="1" fill="#FFFF00"/>
<rect x="886" y="511" width="1" height="1" fill="#FFFF00"/>
<rect x="895" y="511" width="1" height="1" fill="#FFFF00"/>
<rect x="905" y="511" width="1" height="1" fill="#FFFF00"/>
<rect x="915" y="511" width="1" height="1" fill="#FFFF00"/>
<rect x="924" y="511" width="1" height="1" fill="#FFFF00"/>
<rect x="934" y="511" width="1" height="1" fill="#FFFF00"/>
<rect x="944" y="511" width="1" height="1" fill="#FFFF00"/>
<rect x="953" y="511" width="1" height="1" fill="#FFFF00"/>
<rect x="963" y="511" width="1" height="1" fill="#FFFF00"/>
<rect x="973" y="511" width="1" height="1" fill="#FFFF00"/>
<rect x="982" y="511" width="1" height="1" fill="#FFFF00"/>
<rect x="992" y="511" width="1" height="1" fill="#FFFF00"/>
<rect x="1002" y="511" width="1" height="1" fill="#FFFF00"/>
<rect x="1011" y="511" width="1" height="1" fill="#FFFF00"/>
<rect x="1021" y="511" width="1" height="1" fill="#FFFF00"/>
<rect x="1031" y="511" width="1" height="1" fill="#FFFF00"/>
<rect x="1040" y="511" width="1" height="1" fill="#FFFF00"/>
<rect x="1050" y="511" width="1" height="1" fill="#FFFF00"/>
<rect x="1060" y="511" width="1" height="1" fill="#FFFF00"/>
<rect x="1070" y="511" width="1" height="1" fill="#FFFF00"/>
<rect x="1079" y="511" width="1" height="1" fill="#FFFF00"/>
<rect x="1089" y="511" width="1" height="1" fill="#FFFF00"/>
<rect x="1099" y="511" width="1" height="1" fill="#FFFF00"/>
<rect x="1108" y="511" width="1" height="1" fill="#FFFF00"/>
<rect x="1118" y="511" width="1" height="1" fill="#FFFF00"/>
<rect x="594" y="508" width="2" height="4" fill="#00FFFF"/>
<rect x="604" y="504" width="2" height="8" fill="#00FFFF"/>
<rect x="633" y="491" width="2" height="21" fill="#00FFFF"/>
<rect x="642" y="491" width="2" height="21" fill="#00FFFF"/>
<rect x="652" y="487" width="2" height="25" fill="#00FFFF"/>
<rect x="662" y="475" width="2" height="37" fill="#00FFFF"/>
<rect x="671" y="462" width="2" height="50" fill="#00FFFF"/>
<rect x="681" y="471" width="2" height="41" fill="#00FFFF"/>
<rect x="691" y="496" width="2" height="16" fill="#00FFFF"/>
<rect x="700" y="483" width="2" height="29" fill="#00FFFF"/>
<rect x="710" y="487" width="2" height="25" fill="#00FFFF"/>
<rect x="720" y="491" width="2" height="21" fill="#00FFFF"/>
<rect x="729" y="474" width="2" height="38" fill="#00FFFF"/>
<rect x="739" y="487" width="2" height="25" fill="#00FFFF"/>
<rect x="749" y="496" width="2" height="16" fill="#00FFFF"/>
<rect x="759" y="487" width="2" height="25" fill="#00FFFF"/>
<rect x="768" y="483" width="2" height="29" fill="#00FFFF"/>
<rect x="778" y="487" width="2" height="25" fill="#00FFFF"/>
<rect x="788" y="479" width="2" height="33" fill="#00FFFF"/>
<rect x="797" y="508" width="2" height="4" fill="#00FFFF"/>
<rect x="807" y="508" width="2" height="4" fill="#00FFFF"/>
<rect x="817" y="508" width="2" height="4" fill="#00FFFF"/>
<rect x="826" y="500" width="2" height="12" fill="#00FFFF"/>
<rect x="836" y="491" width="2" height="21" fill="#00FFFF"/>
<rect x="846" y="491" width="2" height="21" fill="#00FFFF"/>
<rect x="855" y="471" width="2" height="41" fill="#00FFFF"/>
<rect x="865" y="479" width="2" height="33" fill="#00FFFF"/>
<rect x="875" y="462" width="2" height="50" fill="#00FFFF"/>
<rect x="885" y="491" width="2" height="21" fill="#00FFFF"/>
<rect x="894" y="508" width="2" height="4" fill="#00FFFF"/>
<rect x="914" y="504" width="2" height="8" fill="#00FFFF"/>
<rect x="923" y="500" width="2" height="12" fill="#00FFFF"/>
<rect x="933" y="504" width="2" height="8" fill="#00FFFF"/>
<rect x="1001" y="491" width="2" height="21" fill="#00FFFF"/>
<rect x="1010" y="500" width="2" height="12" fill="#00FFFF"/>
<rect x="1020" y="508" width="2" height="4" fill="#00FFFF"/>
<rect x="1107" y="508" width="2" height="4" fill="#00FFFF"/>
<rect x="197" y="370" width="2" height="2" fill="#808080"/>
<rect x="206" y="368" width="2" height="2" fill="#808080"/>
<rect x="216" y="369" width="2" height="2" fill="#808080"/>
<rect x="226" y="370" width="2" height="2" fill="#808080"/>
<rect x="235" y="377" width="2" height="2" fill="#808080"/>
<rect x="245" y="384" width="2" height="2" fill="#808080"/>
<rect x="274" y="370" width="2" height="2" fill="#808080"/>
<rect x="284" y="358" width="2" height="2" fill="#808080"/>
<rect x="323" y="345" width="2" height="2" fill="#808080"/>
<rect x="381" y="348" width="2" height="2" fill="#808080"/>
<rect x="400" y="364" width="2" height="2" fill="#808080"/>
<rect x="419" y="373" width="2" height="2" fill="#808080"/>
<rect x="429" y="377" width="2" height="2" fill="#808080"/>
<rect x="468" y="369" width="2" height="2" fill="#808080"/>
<rect x="478" y="367" width="2" height="2" fill="#808080"/>
<rect x="487" y="380" width="2" height="2" fill="#808080"/>
<rect x="497" y="380" width="2" height="2" fill="#808080"/>
<rect x="507" y="392" width="2" height="2" fill="#808080"/>
<rect x="516" y="386" width="2" height="2" fill="#808080"/>
<rect x="526" y="344" width="2" height="2" fill="#808080"/>
<rect x="536" y="313" width="2" height="2" fill="#808080"/>
<rect x="545" y="290" width="2" height="2" fill="#808080"/>
<rect x="555" y="282" width="2" height="2" fill="#808080"/>
<rect x="565" y="267" width="2" height="2" fill="#808080"/>
<rect x="575" y="264" width="2" height="2" fill="#808080"/>
<rect x="584" y="260" width="2" height="2" fill="#808080"/>
<rect x="594" y="251" width="2" height="2" fill="#808080"/>
<rect x="604" y="247" width="2" height="2" fill="#808080"/>
<rect x="613" y="272" width="2" height="2" fill="#808080"/>
<rect x="623" y="258" width="2" height="2" fill="#808080"/>
<rect x="633" y="284" width="2" height="2" fill="#808080"/>
<rect x="642" y="276" width="2" height="2" fill="#808080"/>
<rect x="652" y="261" width="2" height="2" fill="#808080"/>
<rect x="662" y="268" width="2" height="2" fill="#808080"/>
<rect x="671" y="284" width="2" height="2" fill="#808080"/>
<rect x="681" y="298" width="2" height="2" fill="#808080"/>
<rect x="691" y="307" width="2" height="2" fill="#808080"/>
<rect x="700" y="285" width="2" height="2" fill="#808080"/>
<rect x="710" y="299" width="2" height="2" fill="#808080"/>
<rect x="720" y="317" width="2" height="2" fill="#808080"/>
<rect x="729" y="347" width="2" height="2" fill="#808080"/>
<rect x="749" y="237" width="2" height="2" fill="#808080"/>
<rect x="759" y="201" width="2" height="2" fill="#808080"/>
<rect x="768" y="212" width="2" height="2" fill="#808080"/>
<rect x="778" y="210" width="2" height="2" fill="#808080"/>
<rect x="788" y="199" width="2" height="2" fill="#808080"/>
<rect x="797" y="175" width="2" height="2" fill="#808080"/>
<rect x="807" y="156" width="2" height="2" fill="#808080"/>
<rect x="846" y="125" width="2" height="2" fill="#808080"/>
<rect x="855" y="125" width="2" height="2" fill="#808080"/>
<rect x="865" y="116" width="2" height="2" fill="#808080"/>
<rect x="875" y="111" width="2" height="2" fill="#808080"/>
<rect x="885" y="109" width="2" height="2" fill="#808080"/>
<rect x="894" y="106" width="2" height="2" fill="#808080"/>
<rect x="904" y="104" width="2" height="2" fill="#808080"/>
<rect x="914" y="101" width="2" height="2" fill="#808080"/>
<rect x="933" y="109" width="2" height="2" fill="#808080"/>
<rect x="943" y="111" width="2" height="2" fill="#808080"/>
<rect x="952" y="106" width="2" height="2" fill="#808080"/>
<rect x="962" y="114" width="2" height="2" fill="#808080"/>
<rect x="972" y="102" width="2" height="2" fill="#808080"/>
<rect x="981" y="103" width="2" height="2" fill="#808080"/>
<rect x="991" y="101" width="2" height="2" fill="#808080"/>
<rect x="1001" y="99" width="2" height="2" fill="#808080"/>
<rect x="1010" y="137" width="2" height="2" fill="#808080"/>
<rect x="1020" y="130" width="2" height="2" fill="#808080"/>
<rect x="1029" y="151" width="2" height="2" fill="#808080"/>
<rect x="1039" y="147" width="2" height="2" fill="#808080"/>
<rect x="1049" y="157" width="2" height="2" fill="#808080"/>
<rect x="1059" y="149" width="2" height="2" fill="#808080"/>
<rect x="1069" y="158" width="2" height="2" fill="#808080"/>
<rect x="1078" y="166" width="2" height="2" fill="#808080"/>
<rect x="1088" y="151" width="2" height="2" fill="#808080"/>
<rect x="1098" y="176" width="2" height="2" fill="#808080"/>
<polyline points="188.0,263.5 192.0,263.5 193.0,262.5 202.0,262.5 203.0,263.5 211.0,263.5 212.0,262.5 241.0,262.5 242.0,263.5 250.0,263.5 251.0,262.5 257.0,262.5 266.0,270.5 271.0,272.0 275.0,273.5 288.4,277.0 309.1,280.9 328.5,282.9 349.2,284.2 407.4,284.2 422.9,285.2 497.6,285.2 509.2,293.8 528.6,299.0 554.5,305.4 575.2,307.2 604.9,308.0 614.0,317.0 626.9,319.6 639.8,325.3 650.0,326.8 668.1,329.0 688.0,331.1 701.6,331.7 712.5,339.8 722.4,342.6 733.3,347.1 756.8,351.6 775.0,352.9 794.9,354.9 851.0,354.9 852.8,356.4 982.2,356.4 992.7,347.5 1001.3,345.9 1010.9,341.1 1037.6,335.4 1064.4,332.5 1078.8,332.1 1089.3,323.3 1099.8,321.4 1108.1,317.2" fill="none" stroke="#00FF00" stroke-width="1" stroke-linejoin="round" shape-rendering="crispEdges" />
<polyline points="188.0,455.3 192.7,454.1 231.0,454.1 234.1,453.3 261.7,453.3 264.8,454.4 272.5,453.3 297.0,454.1 303.9,456.4 310.8,455.3 338.5,455.3 341.5,456.4 366.1,456.4 369.2,457.5 396.1,457.5 398.4,458.2 405.3,457.5 442.1,457.5 446.7,456.4 469.8,455.3 479.0,451.5 486.6,449.5 497.4,448.3 512.7,446.7 526.5,442.6 544.2,439.3 576.4,433.1 614.1,426.4 621.0,427.4 642.6,424.1 655.5,423.9 682.4,420.5 708.5,418.7 745.0,413.3 769.2,410.7 793.7,408.1 816.7,407.6 825.9,408.7 847.4,407.3 855.1,405.3 879.7,405.3 891.9,403.3 919.6,403.3 922.6,404.2 954.9,404.2 961.8,406.2 992.5,407.3 1004.8,408.8 1020.1,409.9 1038.6,416.5 1055.4,421.4 1078.5,425.4 1108.4,429.5" fill="none" stroke="#408080" stroke-width="1" stroke-linejoin="round" shape-rendering="crispEdges" />
<polyline points="377.5,511.5 385.0,511.5 389.4,509.6 411.9,505.0 420.9,502.1 429.8,504.3 440.3,502.5 459.8,480.4 470.2,473.7 488.2,469.9 498.7,469.2 528.1,390.1 545.9,398.6 556.4,381.1 566.6,391.0 576.1,376.6 585.8,436.8 596.0,432.0 605.6,361.3 624.8,412.2 642.6,418.1 653.2,445.3 663.2,445.3 672.4,455.3 682.4,421.5 692.4,425.4 701.6,462.2 711.5,430.7 720.7,433.5 740.7,469.1 749.0,467.7 769.2,460.2 779.6,450.5 789.4,474.4 798.3,473.2 808.1,487.9 827.5,487.9 837.2,476.7 855.9,468.1 866.4,474.4 874.7,475.9 885.9,460.9 895.6,479.6 905.3,496.1 915.0,494.6 924.0,479.6 939.2,493.1 953.4,505.1 963.2,502.8 973.6,502.8 992.3,510.0 1016.3,510.3 1026.7,511.5" fill="none" stroke="#60A8FF" stroke-width="1" stroke-linejoin="round" shape-rendering="crispEdges" />
<polyline points="385.0,511.5 389.4,509.6 399.9,507.3 411.9,504.3 420.1,500.6 429.8,503.1 440.3,501.3 450.8,489.4 459.8,475.9 469.5,466.6 488.2,461.4 498.4,461.4 527.2,368.9 545.9,378.3 556.1,359.1 566.3,371.1 576.1,354.0 585.8,423.6 596.0,418.1 605.6,334.8 624.0,394.4 634.8,399.8 642.6,401.2 653.2,433.5 663.2,433.5 672.4,444.9 682.4,405.2 692.4,409.8 701.6,453.0 710.8,416.7 721.5,419.5 740.7,462.0 746.7,461.7 760.9,454.2 769.2,451.2 779.6,440.7 789.4,468.4 799.1,466.6 808.1,483.1 818.5,484.1 828.3,484.1 837.2,471.4 855.2,461.7 865.7,466.9 876.1,469.2 885.9,452.7 894.8,477.4 905.3,493.1 915.0,491.6 924.0,474.7 934.7,484.1 944.4,495.4 953.4,504.0 963.2,501.3 973.6,501.3 982.6,505.8 992.3,509.6 1006.5,509.6 1017.0,511.5" fill="none" stroke="#008000" stroke-width="1" stroke-linejoin="round" shape-rendering="crispEdges" />
<polyline points="188.0,405.0 198.0,410.3 204.2,407.3 208.8,408.0 217.2,417.3 227.2,417.3 246.4,440.3 255.6,460.2 266.3,471.0 274.0,461.8 285.5,453.0 295.7,475.9 303.9,479.6 314.4,489.4 335.4,499.1 343.6,501.3 360.8,505.8 375.0,507.3 384.2,507.3 389.4,509.1 406.7,509.1 411.1,510.3 420.9,479.2 429.8,475.2 440.3,489.4 449.3,492.4 459.8,497.6 468.7,490.9 479.2,475.6 488.2,473.2 497.9,470.7 508.4,472.2 518.1,462.1 527.1,465.4 537.6,453.5 545.0,449.0 551.8,440.0 566.3,424.1 576.1,421.5 584.9,409.3 596.8,415.1 613.8,412.2 624.0,407.6 634.1,416.4 643.5,416.4 653.2,405.2 664.0,413.6 682.4,407.5 692.4,403.4 710.0,421.3 720.7,423.9 740.7,460.7 750.5,468.1 759.5,461.7 769.9,469.9 779.6,475.6 788.6,474.4 799.1,466.9 808.1,457.2 818.5,479.2 828.3,484.1 837.2,490.1 847.0,494.6 855.9,490.9 866.4,495.4 875.4,496.9 885.9,490.1 894.8,476.2 904.6,478.6 915.8,469.2 924.0,486.4 927.2,484.6 934.7,480.7 944.4,465.7 953.4,484.1 963.2,484.1 973.6,493.1 982.6,484.1 992.3,465.7 1002.8,481.9 1011.8,486.4 1020.8,493.1 1030.5,495.4 1040.2,499.5 1049.9,501.3 1059.6,502.1 1069.4,501.0 1079.1,499.5 1088.8,503.6 1099.3,503.6 1108.3,506.1" fill="none" stroke="#000000" stroke-width="1" stroke-linejoin="round" shape-rendering="crispEdges" />
<polyline points="188.0,405.0 196.5,406.8 202.6,405.7 211.9,405.7 213.4,406.8 237.2,406.8 244.1,403.9 255.6,403.9 265.6,409.9 274.0,407.7 294.0,407.7 303.2,413.0 313.9,413.0 322.4,410.0 327.0,410.0 334.6,413.0 356.9,413.0 358.4,413.9 382.3,413.9 384.6,413.0 390.7,413.0 399.2,416.0 402.2,416.0 409.9,413.0 417.6,413.9 429.1,418.8 439.1,418.8 448.3,415.0 453.6,415.0 460.5,416.8 469.8,416.8 479.0,409.9 486.6,409.9 489.7,408.8 498.9,408.8 500.4,407.7 508.1,407.7 515.8,405.4 523.5,402.7 532.7,400.1 568.0,399.8 578.0,395.7 604.9,395.7 614.1,389.9 642.5,389.9 654.0,396.8 658.6,397.5 682.4,397.5 683.9,398.8 712.3,398.8 730.0,391.8 740.0,396.1 749.2,398.7 752.3,398.7 761.5,395.8 773.8,395.8 776.8,394.9 783.0,394.9 786.0,395.8 792.2,395.8 795.2,394.9 802.9,394.9 810.6,396.9 816.7,398.4 825.2,400.7 846.7,400.7 855.9,395.8 862.8,394.9 871.2,394.9 881.2,397.6 888.9,397.6 896.5,394.9 917.3,394.9 922.6,398.7 948.0,399.1 953.4,400.3 963.4,404.6 991.8,404.6 1003.3,408.8 1012.5,412.6 1020.1,413.9 1029.4,421.1 1038.6,426.4 1050.8,427.2 1066.2,429.8 1080.0,430.3 1098.4,431.0 1108.4,431.8" fill="none" stroke="#FF0000" stroke-width="2" stroke-linejoin="round" shape-rendering="crispEdges" />
<clipPath id="pc"><rect x="189" y="62" width="929" height="450"/></clipPath>
<polyline points="188.0,170.0 198.0,161.5 206.5,165.5 209.0,165.5 218.0,161.0 236.0,161.0 245.0,165.5 258.0,165.5 266.5,161.0 305.4,161.0 313.6,157.0 316.4,157.0 323.8,161.5 326.6,161.5 335.0,156.0 420.6,156.0 428.9,149.0 431.7,147.0 441.8,143.0 469.6,143.0 479.8,133.7 488.1,133.7 498.3,143.0 517.7,143.0 527.0,134.4 537.2,143.3 547.4,133.7 556.6,130.0 596.4,130.0 606.5,124.8 614.0,124.8 624.1,143.0 635.2,133.7 642.6,130.9 649.6,123.5 656.1,117.9 661.7,113.3 670.0,108.7 682.0,102.7 692.2,111.4 698.7,108.3 711.6,102.2 730.1,102.2 740.3,89.2 750.5,84.6 758.8,88.9 781.0,88.9 791.2,84.0 808.8,84.0 819.0,80.0 829.1,80.0 838.4,75.9 855.0,75.9 863.4,79.6 878.9,79.7 887.5,75.6 894.3,75.6 903.0,79.7 916.5,79.7 925.2,75.8 963.7,75.8 974.4,71.4 984.0,71.4 993.6,66.2 1003.3,66.2 1012.0,62.0 1021.0,62.0 1028.0,66.0 1034.0,66.0 1041.0,62.0 1108.5,62.0" fill="none" stroke="#0000FF" stroke-width="2" stroke-linejoin="round" shape-rendering="crispEdges" clip-path="url(#pc)"/>
<rect x="384" y="509" width="2" height="12" fill="#FFFF00"/>
<rect x="1020" y="509" width="2" height="12" fill="#FFFF00"/>
<text x="352" y="542" fill="#000" text-anchor="start" font-size="11" font-weight="normal" >05:04</text>
<g stroke="#FFFFA0" stroke-width="1"><path d="M379 533L391 544M391 533L379 544M385 531V546M378 538.5H392"/></g>
<circle cx="385" cy="538.5" r="3.6" fill="#FFFF00"/>
<text x="988" y="542" fill="#000" text-anchor="start" font-size="11" font-weight="normal" >21:30</text>
<rect x="1018.5" y="535.5" width="5" height="5" fill="none" stroke="#FFFF00" stroke-width="1"/>
<text x="10" y="542" fill="#000" text-anchor="start" font-size="11" font-weight="normal" >16:25</text>
<path d="M40 541V538Q40 535 44.5 535Q49 535 49 538V541Z" fill="#FFFF00"/>
<rect x="1" y="547" width="1268" height="72" fill="#E4FACC"/>
<rect x="1268" y="547" width="1" height="72" fill="#808080"/>
<rect x="87" y="547" width="1" height="72" fill="#FFFFFF"/>
<rect x="88" y="547" width="1" height="72" fill="#808080"/>
<rect x="204" y="547" width="1" height="72" fill="#FFFFFF"/>
<rect x="205" y="547" width="1" height="72" fill="#808080"/>
<rect x="322" y="547" width="1" height="72" fill="#FFFFFF"/>
<rect x="323" y="547" width="1" height="72" fill="#808080"/>
<rect x="440" y="547" width="1" height="72" fill="#FFFFFF"/>
<rect x="441" y="547" width="1" height="72" fill="#808080"/>
<rect x="558" y="547" width="1" height="72" fill="#FFFFFF"/>
<rect x="559" y="547" width="1" height="72" fill="#808080"/>
<rect x="676" y="547" width="1" height="72" fill="#FFFFFF"/>
<rect x="677" y="547" width="1" height="72" fill="#808080"/>
<rect x="795" y="547" width="1" height="72" fill="#FFFFFF"/>
<rect x="796" y="547" width="1" height="72" fill="#808080"/>
<rect x="913" y="547" width="1" height="72" fill="#FFFFFF"/>
<rect x="914" y="547" width="1" height="72" fill="#808080"/>
<text x="9" y="565" fill="#000" text-anchor="start" font-size="11" font-weight="bold"  letter-spacing="0.3">Sensor</text>
<text x="9" y="581" fill="#000" text-anchor="start" font-size="11" font-weight="bold"  letter-spacing="0.3">MinWert</text>
<text x="9" y="597" fill="#000" text-anchor="start" font-size="11" font-weight="bold"  letter-spacing="0.3">MaxWert</text>
<text x="9" y="613" fill="#000" text-anchor="start" font-size="11" font-weight="bold"  letter-spacing="0.3">Durchschnitt</text>
<text x="95" y="565" fill="#000" text-anchor="start" font-size="11" font-weight="bold"  letter-spacing="0.3">Außen</text>
<text x="199" y="565" fill="#000" text-anchor="end" font-size="11" font-weight="bold"  letter-spacing="0.3">°C</text>
<text x="101" y="581" fill="#000" text-anchor="start" font-size="11" font-weight="normal" >23:45</text>
<text x="199" y="581" fill="#000" text-anchor="end" font-size="11" font-weight="normal" >6.2</text>
<text x="101" y="597" fill="#000" text-anchor="start" font-size="11" font-weight="normal" >11:00</text>
<text x="199" y="597" fill="#000" text-anchor="end" font-size="11" font-weight="normal" >9.5</text>
<text x="101" y="613" fill="#000" text-anchor="start" font-size="11" font-weight="normal" >( - 9.89 )</text>
<text x="199" y="613" fill="#000" text-anchor="end" font-size="11" font-weight="normal" >8.29</text>
<text x="212" y="565" fill="#000" text-anchor="start" font-size="11" font-weight="bold"  letter-spacing="0.3">Feuchte</text>
<text x="316" y="565" fill="#000" text-anchor="end" font-size="11" font-weight="bold"  letter-spacing="0.3">%</text>
<text x="218" y="581" fill="#000" text-anchor="start" font-size="11" font-weight="normal" >00:00</text>
<text x="316" y="581" fill="#000" text-anchor="end" font-size="11" font-weight="normal" >76</text>
<text x="218" y="597" fill="#000" text-anchor="start" font-size="11" font-weight="normal" >21:15</text>
<text x="316" y="597" fill="#000" text-anchor="end" font-size="11" font-weight="normal" >100</text>
<text x="316" y="613" fill="#000" text-anchor="end" font-size="11" font-weight="normal" >88</text>
<text x="330" y="565" fill="#000" text-anchor="start" font-size="11" font-weight="bold"  letter-spacing="0.3">Luftdruck</text>
<text x="434" y="565" fill="#000" text-anchor="end" font-size="11" font-weight="bold"  letter-spacing="0.3">hPa</text>
<text x="336" y="581" fill="#000" text-anchor="start" font-size="11" font-weight="normal" >14:00</text>
<text x="434" y="581" fill="#000" text-anchor="end" font-size="11" font-weight="normal" >1003.8</text>
<text x="336" y="597" fill="#000" text-anchor="start" font-size="11" font-weight="normal" >00:15</text>
<text x="434" y="597" fill="#000" text-anchor="end" font-size="11" font-weight="normal" >1012.2</text>
<text x="331" y="613" fill="#000" text-anchor="start" font-size="11" font-weight="normal" >^2.1hPa/h</text>
<text x="434" y="613" fill="#000" text-anchor="end" font-size="11" font-weight="normal" >1007.3</text>
<text x="448" y="565" fill="#000" text-anchor="start" font-size="11" font-weight="bold"  letter-spacing="0.3">Wind</text>
<text x="552" y="565" fill="#000" text-anchor="end" font-size="11" font-weight="bold"  letter-spacing="0.3">km/h</text>
<text x="449" y="581" fill="#000" text-anchor="start" font-size="11" font-weight="normal" >Ø 10 min.</text>
<text x="552" y="581" fill="#000" text-anchor="end" font-size="11" font-weight="normal" >0.0</text>
<text x="454" y="597" fill="#000" text-anchor="start" font-size="11" font-weight="normal" >10:15</text>
<text x="552" y="597" fill="#000" text-anchor="end" font-size="11" font-weight="normal" >S-SW 14.6</text>
<text x="454" y="613" fill="#000" text-anchor="start" font-size="11" font-weight="normal" >116.2 km</text>
<text x="552" y="613" fill="#000" text-anchor="end" font-size="11" font-weight="normal" >4.8</text>
<text x="566" y="565" fill="#000" text-anchor="start" font-size="11" font-weight="bold"  letter-spacing="0.3">Richtung</text>
<text x="572" y="581" fill="#000" text-anchor="start" font-size="11" font-weight="normal" >05:45</text>
<text x="670" y="581" fill="#000" text-anchor="end" font-size="11" font-weight="normal" >NO</text>
<text x="572" y="597" fill="#000" text-anchor="start" font-size="11" font-weight="normal" >20:15</text>
<text x="670" y="597" fill="#000" text-anchor="end" font-size="11" font-weight="normal" >N-NW</text>
<text x="670" y="613" fill="#000" text-anchor="end" font-size="11" font-weight="normal" >N-NW</text>
<text x="684" y="565" fill="#000" text-anchor="start" font-size="11" font-weight="normal" >Regen/1h</text>
<text x="789" y="565" fill="#000" text-anchor="end" font-size="11" font-weight="normal" >0.06l/m²</text>
<text x="684" y="581" fill="#000" text-anchor="start" font-size="11" font-weight="normal" >Regen/Tag</text>
<text x="789" y="581" fill="#000" text-anchor="end" font-size="11" font-weight="normal" >10.28l/m²</text>
<text x="684" y="597" fill="#000" text-anchor="start" font-size="11" font-weight="normal" >Neumond</text>
<text x="789" y="597" fill="#000" text-anchor="end" font-size="11" font-weight="normal" >19.06.12</text>
<text x="684" y="613" fill="#000" text-anchor="start" font-size="11" font-weight="normal" >Vollmond</text>
<text x="789" y="613" fill="#000" text-anchor="end" font-size="11" font-weight="normal" >04.06.12</text>
<text x="802" y="565" fill="#000" text-anchor="start" font-size="11" font-weight="normal" >Wolkenunterg</text>
<text x="906" y="565" fill="#000" text-anchor="end" font-size="11" font-weight="normal" >0m</text>
<text x="802" y="581" fill="#000" text-anchor="start" font-size="11" font-weight="normal" >Schneefallgr</text>
<text x="906" y="581" fill="#000" text-anchor="end" font-size="11" font-weight="normal" >1100m</text>
<text x="802" y="597" fill="#000" text-anchor="start" font-size="11" font-weight="normal" >Schneehöhe</text>
<text x="906" y="597" fill="#000" text-anchor="end" font-size="11" font-weight="normal" >0cm</text>
<text x="802" y="613" fill="#000" text-anchor="start" font-size="11" font-weight="normal" >Sonnen Pos</text>
<text x="906" y="613" fill="#000" text-anchor="end" font-size="11" font-weight="normal" >-13,123°</text>
<text x="921" y="565" fill="#000" text-anchor="start" font-size="11" font-weight="bold"  letter-spacing="0.3">Solar</text>
<text x="1021" y="565" fill="#000" text-anchor="end" font-size="11" font-weight="bold"  letter-spacing="0.3">W/m²</text>
<text x="921" y="581" fill="#000" text-anchor="start" font-size="11" font-weight="normal" >Elevation</text>
<text x="1021" y="581" fill="#000" text-anchor="end" font-size="11" font-weight="normal" >-13.123</text>
<text x="927" y="597" fill="#000" text-anchor="start" font-size="11" font-weight="normal" >10:45</text>
<text x="1021" y="597" fill="#000" text-anchor="end" font-size="11" font-weight="normal" >197</text>
<text x="921" y="613" fill="#000" text-anchor="start" font-size="11" font-weight="normal" >0 min.</text>
<text x="1021" y="613" fill="#000" text-anchor="end" font-size="11" font-weight="normal" >67</text>
</svg></div></body></html>
